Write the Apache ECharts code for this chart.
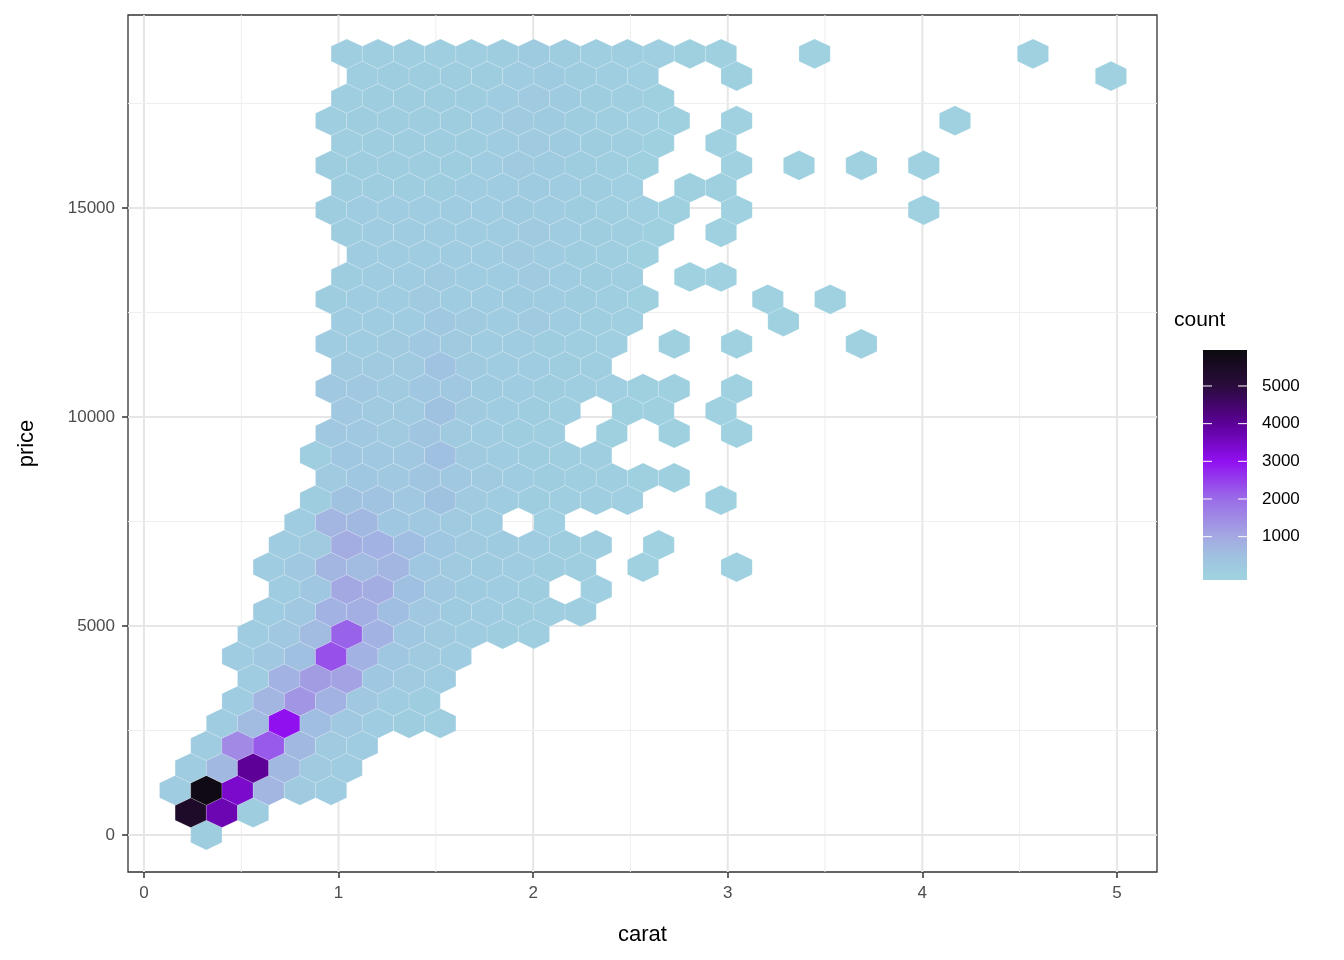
<!DOCTYPE html>
<html><head><meta charset="utf-8">
<script src="https://cdn.jsdelivr.net/npm/echarts@6/dist/echarts.min.js"></script>
<style>html,body{margin:0;padding:0;background:#fff}#c{width:1344px;height:960px}</style>
</head><body><div id="c"></div>
<script>
// hex bin geometry (ggplot2 hexbin, bins=30)
const binW = 0.1603;
const binH = 616.6;
const rowStep = binH * Math.sqrt(3) / 2;

// first column index of each hex row (row 0 = price 0)
const rowStart = [2,1,1,1,2,2,3,3,3,3,4,4,4,4,5,5,6,5,6,6,6,6,6,6,6,6,7,6,6,6,6,6,6,6,7,6];
// counts per row starting at rowStart (0 = empty cell)
const rowCounts = [
  [120],
  [5400,3700,120],
  [150,5900,3400,700,200,150],
  [150,650,4000,650,200,150],
  [150,1500,2200,650,200,150],
  [150,600,3000,550,250,150,120,100],
  [150,700,1300,800,250,150,120],
  [150,800,1200,1100,300,200,150],
  [150,250,500,2300,800,300,200,150],
  [150,250,600,2100,800,300,200,150,120,100],
  [150,250,800,850,550,250,180,150,120,100,80],
  [150,300,1000,900,500,250,180,150,120,0,60],
  [150,250,700,600,700,300,220,180,150,120,80,0,10,0,0,8],
  [150,200,900,800,550,280,220,180,150,120,80,0,8],
  [150,700,650,300,250,200,150,0,60],
  [120,450,400,250,450,200,150,130,100,80,60,0,0,8],
  [200,300,250,350,250,200,150,120,100,80,40,20],
  [100,300,250,250,500,200,150,130,100,80],
  [250,250,200,350,200,150,120,100,0,25,0,15,0,8],
  [250,200,200,450,200,150,120,100,0,25,20,0,8],
  [250,250,200,300,250,180,150,120,100,70,40,25,0,8],
  [200,200,200,400,200,160,150,120,90],
  [150,150,200,250,200,160,150,120,90,60,0,15,0,8,0,0,0,5],
  [150,150,150,250,200,160,200,150,90,60,0,0,0,0,5],
  [120,150,150,200,160,160,170,160,120,90,40,0,0,0,5,0,5],
  [120,150,150,200,150,160,200,160,120,80,0,12,12],
  [150,150,150,150,150,200,160,120,90,40],
  [120,150,150,150,150,160,220,160,120,90,40,0,12],
  [120,140,140,150,150,160,180,160,120,90,60,25,0,12,0,0,0,0,0,5],
  [120,120,120,120,150,160,180,160,120,70,0,15,15],
  [120,120,120,120,120,160,200,170,120,90,40,0,0,12,0,5,0,5,0,5],
  [100,120,120,120,120,160,220,170,120,90,40,0,12],
  [100,120,120,120,120,160,200,180,120,90,60,30,0,12,0,0,0,0,0,0,5],
  [100,120,120,120,120,150,220,170,120,90,40],
  [100,120,120,120,120,150,180,130,100,60,0,0,15,0,0,0,0,0,0,0,0,0,0,0,5],
  [80,100,100,100,100,130,170,130,100,90,70,40,25,0,0,5,0,0,0,0,0,0,5]
];

const xTicks = [0,1,2,3,4,5];
const yTicks = [0,5000,10000,15000];
const xMinor = [0.5,1.5,2.5,3.5,4.5];
const yMinor = [2500,7500,12500,17500];
const legendBreaks = [1000,2000,3000,4000,5000];
const colorValues = [0,500,1000,1500,2000,2500,3000,3500,4000,4500,5000,5500,6000];
const colorList = ['#9fd1e0','#a0c0e1','#a4a8e2','#a08ae5','#9a6ce8','#953eec','#9010f0','#7608c4','#5c0098','#43066a','#2a0c3c','#1b0b25','#0c0a0e'];

const hexData = [];
rowCounts.forEach((row, j) => {
  row.forEach((cnt, k) => {
    if (cnt > 0) {
      const i = rowStart[j] + k + (j % 2 ? 0.5 : 0);
      hexData.push([i * binW, j * rowStep, cnt]);
    }
  });
});

const gridData = [];
xTicks.forEach(v => gridData.push([v, 0, 1]));
xMinor.forEach(v => gridData.push([v, 0, 0]));
yTicks.forEach(v => gridData.push([v, 1, 1]));
yMinor.forEach(v => gridData.push([v, 1, 0]));

const X_MIN = -0.082, X_MAX = 5.206, Y_MIN = -885, Y_MAX = 19617;
const legMin = -150, legMax = 5955;

const chart = echarts.init(document.getElementById('c'));
const font = 'Liberation Sans, Arial, sans-serif';

const barTop = 350, barBottom = 580, barLeft = 1203, barW = 44;
const frac = v => (legMax - v) / (legMax - legMin);
const stops = colorValues.map((v, k) => ({offset: Math.min(1, Math.max(0, frac(v))), color: colorList[k]}))
  .sort((a,b)=>a.offset-b.offset);
const legendGraphics = [
  {type:'text', left: 1174, top: 310, style:{text:'count', font:'21px ' + font, fill:'#000'}},
  {type:'rect', shape:{x:barLeft, y:barTop, width:barW, height:barBottom-barTop},
   style:{fill:{type:'linear', x:0, y:0, x2:0, y2:1, colorStops: stops}}}
];
legendBreaks.forEach(b => {
  const y = barTop + frac(b) * (barBottom - barTop);
  legendGraphics.push({type:'line', shape:{x1:barLeft, y1:y, x2:barLeft+9, y2:y}, style:{stroke:'#fff', lineWidth:1}});
  legendGraphics.push({type:'line', shape:{x1:barLeft+barW-9, y1:y, x2:barLeft+barW, y2:y}, style:{stroke:'#fff', lineWidth:1}});
  legendGraphics.push({type:'text', x: 1262, y: y, style:{text:String(b), font:'17px ' + font, fill:'#000', textVerticalAlign:'middle'}});
});

chart.setOption({
  animation: false,
  grid: {left:128, right:187, top:15, bottom:88, show:true, borderColor:'#333', borderWidth:1.3, backgroundColor:'#fff'},
  xAxis: {type:'value', min:X_MIN, max:X_MAX, name:'carat', nameLocation:'middle', nameGap:52,
    nameTextStyle:{fontSize:22, color:'#000', fontFamily:font},
    axisLine:{show:false, onZero:false}, splitLine:{show:false},
    axisTick:{show:true, customValues:xTicks, length:6, lineStyle:{color:'#333', width:1.5}},
    axisLabel:{customValues:xTicks, fontSize:17, color:'#4d4d4d', fontFamily:font, margin:13, formatter: v => String(v)}},
  yAxis: {type:'value', min:Y_MIN, max:Y_MAX, name:'price', nameLocation:'middle', nameGap:90,
    nameTextStyle:{fontSize:22, color:'#000', fontFamily:font},
    axisLine:{show:false, onZero:false}, splitLine:{show:false},
    axisTick:{show:true, customValues:yTicks, length:6, lineStyle:{color:'#333', width:1.5}},
    axisLabel:{customValues:yTicks, fontSize:17, color:'#4d4d4d', fontFamily:font, margin:13, formatter: v => String(v)}},
  visualMap: {show:false, type:'continuous', min:colorValues[0], max:colorValues[colorValues.length-1],
    dimension:2, seriesIndex:1, inRange:{color:colorList}},
  graphic: legendGraphics,
  series: [
    {type:'custom', z:1, silent:true, data:gridData, renderItem:(params, api) => {
      const cs = params.coordSys;
      const v = api.value(0), isY = api.value(1), major = api.value(2);
      const style = {stroke: major ? '#e6e6e6' : '#efefef', lineWidth: major ? 2 : 1};
      if (isY) {
        const p = api.coord([0, v]);
        return {type:'line', shape:{x1:cs.x, y1:p[1], x2:cs.x+cs.width, y2:p[1]}, style};
      }
      const p = api.coord([v, 0]);
      return {type:'line', shape:{x1:p[0], y1:cs.y, x2:p[0], y2:cs.y+cs.height}, style};
    }},
    {type:'custom', z:2, data:hexData, renderItem:(params, api) => {
      const c = api.coord([api.value(0), api.value(1)]);
      const s = api.size([binW, binH]);
      const w = s[0] / 2, h = s[1] / Math.sqrt(3);
      const col = api.visual('color');
      return {type:'polygon', shape:{points:[[c[0],c[1]-h],[c[0]+w,c[1]-h/2],[c[0]+w,c[1]+h/2],[c[0],c[1]+h],[c[0]-w,c[1]+h/2],[c[0]-w,c[1]-h/2]]},
        style:{fill:col, stroke:'rgba(255,255,255,0.3)', lineWidth:0.5}};
    }}
  ]
});
</script></body></html>
